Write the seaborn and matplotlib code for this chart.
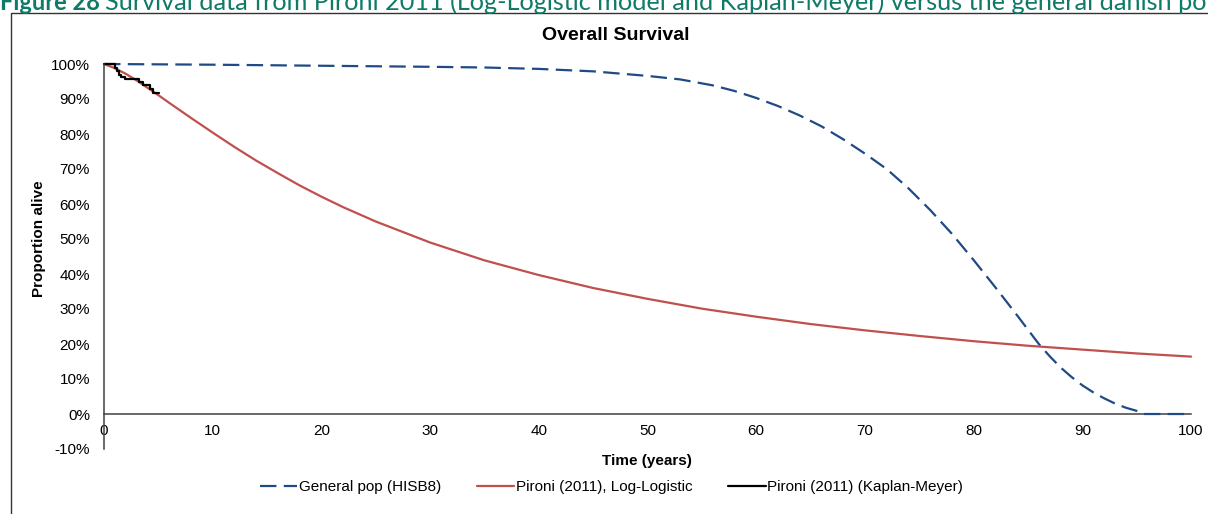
import matplotlib
matplotlib.use("Agg")
import matplotlib.pyplot as plt
from matplotlib.patches import Rectangle
import seaborn as sns

# General population survival (HISB8), percent alive by year
gen_years = [0, 10, 20, 30, 35, 40, 45, 50, 53, 56, 58, 60, 62, 64, 66, 68, 70, 72,
             74, 76, 78, 80, 82, 84, 86, 87, 88, 89, 90, 91, 92, 93, 94, 95, 95.6, 100]
gen_surv = [100, 99.8, 99.5, 99.2, 99.0, 98.6, 97.9, 96.6, 95.6, 93.9, 92.3, 90.3,
            88.0, 85.3, 82.2, 78.5, 74.4, 70.0, 64.5, 58.3, 51.5, 44.0, 36.2, 28.2,
            20.0, 16.5, 13.3, 10.6, 8.2, 6.2, 4.5, 3.0, 1.8, 0.9, 0, 0]

# Pironi (2011) log-logistic model fit
ll_years = [0, 1, 2, 3, 4, 5, 6, 8, 10, 12, 14, 16, 18, 20, 22, 25, 30, 35, 40, 45,
            50, 55, 60, 65, 70, 75, 80, 85, 90, 95, 100]
ll_surv = [100, 98.8, 97.2, 95.3, 93.2, 91.1, 88.9, 84.6, 80.4, 76.3, 72.4, 68.8,
           65.3, 62.1, 59.1, 55.0, 49.0, 43.9, 39.7, 36.0, 32.9, 30.1, 27.8, 25.7,
           23.9, 22.3, 20.8, 19.5, 18.4, 17.3, 16.4]

# Pironi (2011) Kaplan-Meier estimate
km_years = [0, 1.0, 1.2, 1.4, 1.6, 1.9, 3.2, 3.55, 4.2, 4.55, 5.1]
km_surv = [100, 99.0, 98.0, 97.0, 96.2, 95.6, 94.9, 94.0, 93.0, 91.8, 91.8]

x_ticks = [0, 10, 20, 30, 40, 50, 60, 70, 80, 90, 100]
y_ticks = [-10, 0, 10, 20, 30, 40, 50, 60, 70, 80, 90, 100]
y_tick_labels = ["-10%", "0%", "10%", "20%", "30%", "40%", "50%", "60%", "70%",
                 "80%", "90%", "100%"]

sns.set_theme(style="white")
plt.rcParams["font.family"] = ["Liberation Sans", "DejaVu Sans"]
plt.rcParams["text.color"] = "black"

fig = plt.figure(figsize=(12.08, 5.14), dpi=100)
ax = fig.add_axes([104 / 1208, 1 - 449 / 514, (1191 - 104) / 1208, (449 - 64) / 514])

blue = "#1F4A85"
red = "#C0504D"

sns.lineplot(x=gen_years, y=gen_surv, ax=ax, color=blue, linewidth=1.6,
             linestyle=(0, (7.4, 3.3)), label="General pop (HISB8)",
             errorbar=None, clip_on=False)
sns.lineplot(x=ll_years, y=ll_surv, ax=ax, color=red, linewidth=1.6,
             label="Pironi (2011), Log-Logistic", errorbar=None, clip_on=False)
sns.lineplot(x=km_years, y=km_surv, ax=ax, color="black", linewidth=1.6,
             drawstyle="steps-post", label="Pironi (2011) (Kaplan-Meyer)",
             errorbar=None, clip_on=False)

ax.set_xlim(0, 100)
ax.set_ylim(-10, 100)
ax.set_xticks(x_ticks)
ax.set_xticklabels([str(v) for v in x_ticks])
ax.set_yticks(y_ticks)
ax.set_yticklabels(y_tick_labels)

axis_color = "#404040"
for side in ("top", "right"):
    ax.spines[side].set_visible(False)
ax.spines["left"].set_color(axis_color)
ax.spines["left"].set_linewidth(1.1)
ax.spines["bottom"].set_position(("data", 0))
ax.spines["bottom"].set_color(axis_color)
ax.spines["bottom"].set_linewidth(1.1)
ax.spines["bottom"].set_zorder(1)

ax.tick_params(axis="both", length=0, labelsize=11, colors="black")
ax.tick_params(axis="x", pad=7)
ax.tick_params(axis="y", pad=10)
ax.grid(False)
ax.set_xlabel("")
ax.set_ylabel("")

ax.get_legend().remove()
handles, labels = ax.get_legend_handles_labels()
fig.legend(handles, labels, loc="center left",
           bbox_to_anchor=(246 / 1208, 1 - 487 / 514),
           ncol=3, frameon=False, fontsize=11, handlelength=2.45,
           handletextpad=0.1, columnspacing=2.35)

fig.text(647 / 1208, 1 - 461 / 514, "Time (years)", ha="center", va="center",
         fontsize=11, fontweight="bold")
fig.text(39 / 1208, 1 - 239 / 514, "Proportion alive", ha="center", va="center",
         rotation=90, fontsize=11, fontweight="bold")
fig.text(616 / 1208, 1 - 36 / 514, "Overall Survival", ha="center", va="center",
         fontsize=14, fontweight="bold")

# Chart frame
fig.add_artist(Rectangle((11 / 1208, -0.05), 1.1, 1.05 - 13 / 514,
                         transform=fig.transFigure, fill=False,
                         edgecolor="#333333", linewidth=1.0))

# Report caption above the chart: bold figure number followed by the caption text
green = "#0E7A67"
cap_font = ["Lato", "DejaVu Sans"]
cap_y = 1 - 10 / 514
fig_num = fig.text(0.0, cap_y, "Figure 28", ha="left", va="baseline",
                   fontsize=17, fontweight="bold", color=green, family=cap_font)
renderer = fig.canvas.get_renderer()
num_right = fig_num.get_window_extent(renderer).x1
fig.text((num_right + 5) / 1208, cap_y,
         "Survival data from Pironi 2011 (Log-Logistic model and Kaplan-Meyer) "
         "versus the general danish population",
         ha="left", va="baseline", fontsize=18.2, color=green, family=cap_font)

fig.savefig("out.png", dpi=100)
